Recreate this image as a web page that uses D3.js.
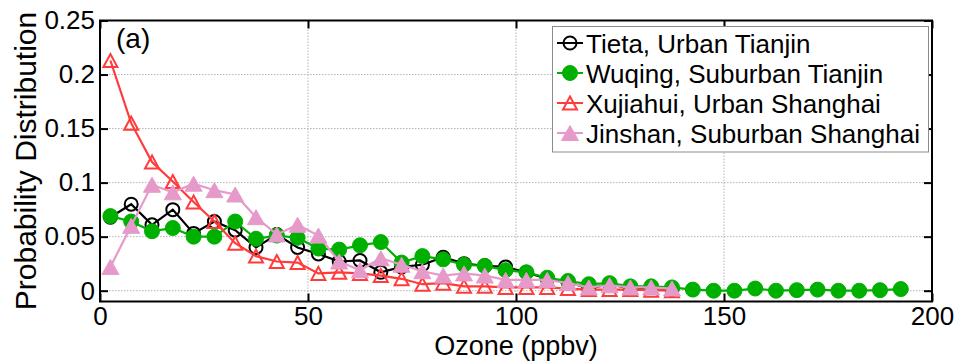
<!DOCTYPE html>
<html>
<head>
<meta charset="utf-8">
<script src="https://cdn.jsdelivr.net/npm/d3@7/dist/d3.min.js"></script>
<style>
  body { margin: 0; background: #fff; }
  svg { display: block; font-family: "Liberation Sans", Arial, sans-serif; }
</style>
</head>
<body>
<div id="chart"></div>
<script>
// bin centres (ppbv)
var bins = [2.5, 7.5, 12.5, 17.5, 22.5, 27.5, 32.5, 37.5, 42.5, 47.5, 52.5, 57.5, 62.5, 67.5,
    72.5, 77.5, 82.5, 87.5, 92.5, 97.5, 102.5, 107.5, 112.5, 117.5, 122.5, 127.5, 132.5, 137.5,
    142.5, 147.5, 152.5, 157.5, 162.5, 167.5, 172.5, 177.5, 182.5, 187.5, 192.5];

var tieta = [0.068, 0.080, 0.061, 0.075, 0.053, 0.064, 0.056, 0.040, 0.052, 0.040, 0.034, 0.027, 0.028, 0.017,
    0.022, 0.024, 0.031, 0.025, 0.023, 0.022, 0.017, 0.011, 0.008, 0.002, 0.006, 0.002, 0.003, 0.001];
var wuqing = [0.069, 0.064, 0.055, 0.058, 0.050, 0.050, 0.064, 0.048, 0.051, 0.049, 0.039, 0.038, 0.042, 0.045,
    0.026, 0.032, 0.029, 0.024, 0.023, 0.019, 0.017, 0.012, 0.009, 0.006, 0.007, 0.004, 0.004, 0.003,
    0.001, 0.000, 0.000, 0.002, 0.000, 0.0005, 0.001, 0.000, 0.000, 0.0005, 0.0015];
var xujiahui = [0.213, 0.155, 0.119, 0.101, 0.082, 0.064, 0.044, 0.032, 0.027, 0.026, 0.016, 0.017, 0.016, 0.014,
    0.011, 0.006, 0.007, 0.004, 0.004, 0.003, 0.003, 0.003, 0.002, 0.001, 0.001, 0.001, 0.0005, 0.000];
var jinshan = [0.022, 0.060, 0.098, 0.091, 0.099, 0.093, 0.089, 0.068, 0.052, 0.061, 0.051, 0.027, 0.019, 0.030,
    0.024, 0.018, 0.014, 0.016, 0.014, 0.010, 0.010, 0.010, 0.007, 0.003, 0.005, 0.003, 0.003, 0.002];

var seriesNames = ["Tieta, Urban Tianjin", "Wuqing, Suburban Tianjin", "Xujiahui, Urban Shanghai", "Jinshan, Suburban Shanghai"];
var xTicks = [0, 50, 100, 150, 200];
var xTickLabels = ["0", "50", "100", "150", "200"];
var yTicks = [0, 0.05, 0.1, 0.15, 0.2, 0.25];
var yTickLabels = ["0", "0.05", "0.1", "0.15", "0.2", "0.25"];

var width = 957, height = 361;
var margin = { top: 20.5, right: 25, bottom: 59.5, left: 100 };

var svg = d3.select("#chart").append("svg")
    .attr("width", width)
    .attr("height", height);

var x = d3.scaleLinear().domain([0, 200]).range([margin.left, width - margin.right]);
var y = d3.scaleLinear().domain([-0.01, 0.25]).range([height - margin.bottom, margin.top]);

// grid (dotted)
svg.append("g").selectAll("line")
    .data(xTicks.slice(1, -1))
  .enter().append("line")
    .attr("x1", function (d) { return x(d); })
    .attr("x2", function (d) { return x(d); })
    .attr("y1", y.range()[1])
    .attr("y2", y.range()[0])
    .attr("stroke", "#b4b4b4")
    .attr("stroke-width", 1)
    .attr("stroke-dasharray", "1.5,1.5");
svg.append("g").selectAll("line")
    .data(yTicks.slice(0, -1))
  .enter().append("line")
    .attr("x1", x.range()[0])
    .attr("x2", x.range()[1])
    .attr("y1", function (d) { return y(d); })
    .attr("y2", function (d) { return y(d); })
    .attr("stroke", "#b4b4b4")
    .attr("stroke-width", 1)
    .attr("stroke-dasharray", "1.5,1.5");

// axes with inward ticks
function fmt(list, labels) {
    return function (d) { return labels[list.indexOf(d)]; };
}
var bottomAxis = svg.append("g")
    .attr("transform", "translate(0," + y.range()[0] + ")")
    .call(d3.axisBottom(x).tickValues(xTicks).tickSize(-8).tickPadding(5).tickFormat(fmt(xTicks, xTickLabels)));
var leftAxis = svg.append("g")
    .attr("transform", "translate(" + x.range()[0] + ",0)")
    .call(d3.axisLeft(y).tickValues(yTicks).tickSize(-8).tickPadding(5).tickFormat(fmt(yTicks, yTickLabels)));
var topAxis = svg.append("g")
    .attr("transform", "translate(0," + y.range()[1] + ")")
    .call(d3.axisTop(x).tickValues(xTicks).tickSize(-8).tickFormat(""));
var rightAxis = svg.append("g")
    .attr("transform", "translate(" + x.range()[1] + ",0)")
    .call(d3.axisRight(y).tickValues(yTicks).tickSize(-8).tickFormat(""));

[bottomAxis, leftAxis, topAxis, rightAxis].forEach(function (g) {
    g.select(".domain").remove();
    g.selectAll("line").attr("stroke", "#000").attr("stroke-width", 2);
    g.selectAll("text").attr("fill", "#000").style("font-size", "26px")
        .style("font-family", "'Liberation Sans', Arial, sans-serif");
});
bottomAxis.selectAll("text").attr("dy", "0.71em");

// box
svg.append("rect")
    .attr("x", x.range()[0])
    .attr("y", y.range()[1])
    .attr("width", x.range()[1] - x.range()[0])
    .attr("height", y.range()[0] - y.range()[1])
    .attr("fill", "none")
    .attr("stroke", "#000")
    .attr("stroke-width", 2);

// axis labels
svg.append("text")
    .attr("transform", "translate(36," + ((y.range()[0] + y.range()[1]) / 2) + ") rotate(-90)")
    .attr("text-anchor", "middle")
    .style("font-size", "30px")
    .text("Probability Distribution");
svg.append("text")
    .attr("x", (x.range()[0] + x.range()[1]) / 2)
    .attr("y", 355)
    .attr("text-anchor", "middle")
    .style("font-size", "27px")
    .text("Ozone (ppbv)");
svg.append("text")
    .attr("x", 116)
    .attr("y", 48)
    .style("font-size", "28px")
    .text("(a)");

// marker shapes
function triPath(w, h) {
    return "M0," + (-h / 2) + "L" + (w / 2) + "," + (h / 2) + "L" + (-w / 2) + "," + (h / 2) + "Z";
}
var styles = [
    { color: "#000000", marker: "circle", r: 6.5, fill: "none" },
    { color: "#00b000", marker: "circle", r: 7.5, fill: "#00b000" },
    { color: "#ff3b3b", marker: "tri", w: 14, h: 13, fill: "none" },
    { color: "#e59ac9", marker: "tri", w: 17, h: 15, fill: "#e59ac9" }
];
var allSeries = [tieta, wuqing, xujiahui, jinshan];

function drawMarker(sel, st) {
    if (st.marker === "circle") {
        sel.append("circle")
            .attr("r", st.r)
            .attr("fill", st.fill)
            .attr("stroke", st.color)
            .attr("stroke-width", st.fill === "none" ? 2 : 1);
    } else {
        sel.append("path")
            .attr("d", triPath(st.w, st.h))
            .attr("fill", st.fill)
            .attr("stroke", st.color)
            .attr("stroke-width", st.fill === "none" ? 2 : 1)
            .attr("stroke-linejoin", "miter");
    }
}

var line = d3.line()
    .x(function (d) { return x(d[0]); })
    .y(function (d) { return y(d[1]); });

allSeries.forEach(function (vals, i) {
    var st = styles[i];
    var pts = vals.map(function (v, j) { return [bins[j], v]; });
    var g = svg.append("g");
    g.append("path")
        .attr("d", line(pts))
        .attr("fill", "none")
        .attr("stroke", st.color)
        .attr("stroke-width", 2.2);
    g.selectAll(".m")
        .data(pts)
      .enter().append("g")
        .attr("class", "m")
        .attr("transform", function (d) { return "translate(" + x(d[0]) + "," + y(d[1]) + ")"; })
        .each(function () { drawMarker(d3.select(this), st); });
});

// legend
var legend = svg.append("g");
legend.append("rect")
    .attr("x", 552.5)
    .attr("y", 26.5)
    .attr("width", 376)
    .attr("height", 125.5)
    .attr("fill", "#fff")
    .attr("stroke", "#8c8c8c")
    .attr("stroke-width", 1);
seriesNames.forEach(function (name, i) {
    var st = styles[i];
    var cy = 43 + i * 30;
    var item = legend.append("g");
    item.append("line")
        .attr("x1", 557).attr("x2", 583)
        .attr("y1", cy).attr("y2", cy)
        .attr("stroke", st.color)
        .attr("stroke-width", 2);
    var m = item.append("g").attr("transform", "translate(570," + cy + ")");
    drawMarker(m, st);
    item.append("text")
        .attr("x", 586)
        .attr("y", cy + 10)
        .style("font-size", "26px")
        .text(name);
});
</script>
</body>
</html>
